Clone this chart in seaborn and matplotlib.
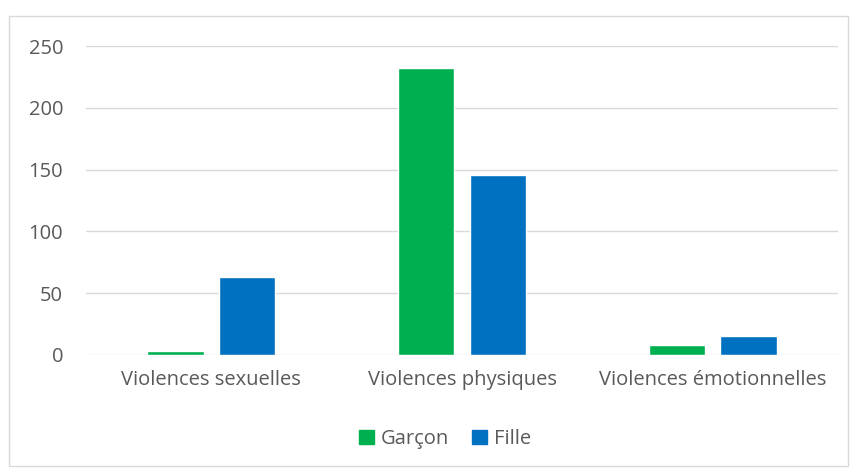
import pandas as pd
import matplotlib.pyplot as plt
import seaborn as sns
from matplotlib.patches import Rectangle

categories = ['Violences sexuelles', 'Violences physiques', 'Violences émotionnelles']
garcon = [3, 232, 8]
fille = [63, 146, 15]
series_names = ['Garçon', 'Fille']

df = pd.DataFrame({
    'categorie': categories * 2,
    'valeur': garcon + fille,
    'sexe': [series_names[0]] * 3 + [series_names[1]] * 3,
})

sns.set_theme(style='white')
plt.rcParams['font.family'] = ['Open Sans', 'DejaVu Sans']

fig = plt.figure(figsize=(8.51, 4.68), dpi=100)
ax = fig.add_axes([86 / 851, 1 - 355 / 468, (838 - 86) / 851, (355 - 46) / 468])

# outer chart border
fig.patches.append(Rectangle((9 / 851, 2 / 468), 839 / 851, 450 / 468,
                             transform=fig.transFigure, fill=False,
                             edgecolor='#D9D9D9', linewidth=1))

sns.barplot(data=df, x='categorie', y='valeur', hue='sexe', order=categories,
            hue_order=series_names, palette=['#00B050', '#0070C0'],
            width=0.57, gap=0.21, saturation=1, ax=ax, legend=False)

ax.set_ylim(0, 250)
ax.set_xlim(-0.5, 2.5)
ax.set_yticks(range(0, 251, 50))
ax.yaxis.grid(True, color='#D9D9D9', linewidth=1)
ax.set_axisbelow(True)
for s in ax.spines.values():
    s.set_visible(False)
ax.tick_params(axis='both', length=0, labelsize=14.5, labelcolor='#595959')
ax.tick_params(axis='y', pad=16.5)
ax.tick_params(axis='x', pad=11)
ax.set_xlabel('')
ax.set_ylabel('')

handles = [Rectangle((0, 0), 1, 1, color=c) for c in ['#00B050', '#0070C0']]
fig.legend(handles, series_names, loc='center', bbox_to_anchor=(445 / 851, 1 - 439 / 468),
           ncol=2, frameon=False, fontsize=14.5, labelcolor='#595959',
           handlelength=0.75, handleheight=0.75, handletextpad=0.35, columnspacing=1.1)

fig.savefig('out.png', dpi=100)
